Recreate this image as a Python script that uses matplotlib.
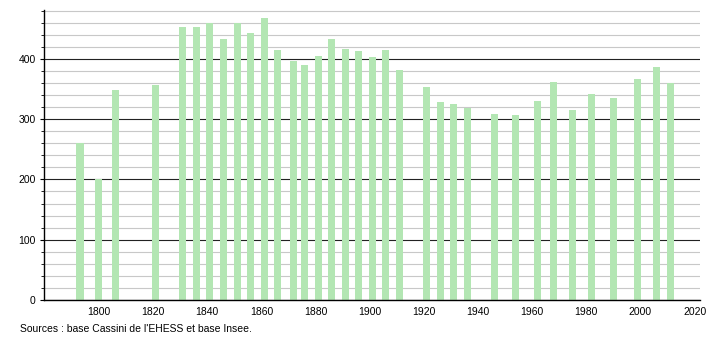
import matplotlib
matplotlib.use("Agg")
import matplotlib.pyplot as plt
from matplotlib.ticker import MultipleLocator

years = [1793, 1800, 1806, 1821, 1831, 1836, 1841, 1846, 1851, 1856, 1861, 1866,
         1872, 1876, 1881, 1886, 1891, 1896, 1901, 1906, 1911, 1921, 1926, 1931,
         1936, 1946, 1954, 1962, 1968, 1975, 1982, 1990, 1999, 2006, 2011]
population = [260, 201, 349, 357, 453, 453, 460, 433, 460, 443, 468, 415,
              397, 390, 405, 433, 417, 413, 403, 415, 382, 353, 329, 325,
              319, 309, 307, 330, 362, 315, 342, 335, 367, 387, 360]
xticks = [1800, 1820, 1840, 1860, 1880, 1900, 1920, 1940, 1960, 1980, 2000, 2020]
yticks = [0, 100, 200, 300, 400]
source = "Sources : base Cassini de l'EHESS et base Insee."

plt.rcParams['font.family'] = ['Liberation Sans', 'DejaVu Sans']

fig = plt.figure(figsize=(7.1, 3.4), dpi=100)
ax = fig.add_axes([44/710, 1-300/340, (700-44)/710, (300-10)/340])

ax.set_xlim(1779.7, 2022)
ax.set_ylim(0, 481)

ax.yaxis.set_major_locator(MultipleLocator(100))
ax.yaxis.set_minor_locator(MultipleLocator(20))
ax.set_yticks(yticks)
ax.set_xticks(xticks)
ax.grid(which='minor', axis='y', color='#c8c8c8', linewidth=0.8)
ax.grid(which='major', axis='y', color='#222222', linewidth=0.8)
ax.set_axisbelow(True)

ax.bar(years, population, width=2.6, color='#b3e6b3', zorder=2)

for s in ['top', 'right']:
    ax.spines[s].set_visible(False)
ax.spines['left'].set_color('black')
ax.spines['bottom'].set_color('black')
ax.spines['left'].set_linewidth(1.0)
ax.spines['bottom'].set_linewidth(1.0)

ax.tick_params(axis='x', length=0, labelsize=7.5, pad=5)
ax.tick_params(axis='y', which='major', length=3, labelsize=7.5, pad=3)
ax.tick_params(axis='y', which='minor', length=2)

fig.text(20/710, 1-329/340, source, fontsize=7.5, va='center', ha='left')

fig.savefig("out.png", dpi=100)
